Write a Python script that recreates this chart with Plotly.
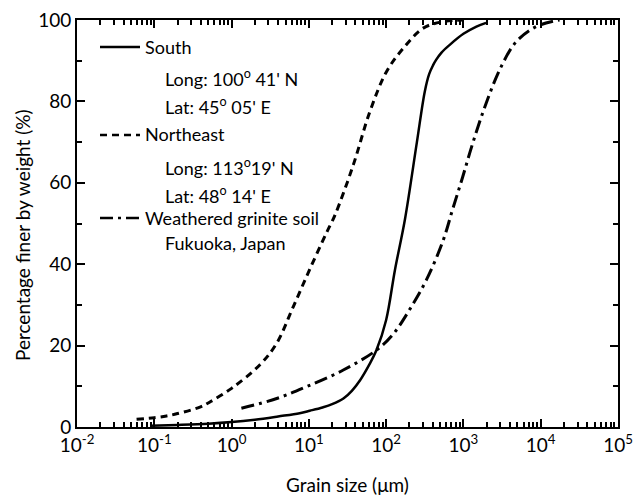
import plotly.graph_objects as go

# ---- data (grain size in micrometres, percent finer by weight) ----
south_x = [0.088, 0.2, 0.5, 1.0, 2.0, 4.0, 7.6, 10.3, 15, 20, 28, 36, 46, 60, 75, 100, 130, 175, 250, 316, 360, 405, 443, 520, 665, 1000, 1472, 1963]
south_y = [0.3, 0.5, 0.8, 1.2, 1.8, 2.6, 3.4, 4.0, 4.8, 5.6, 7.0, 8.9, 11.5, 15.2, 18.9, 26.3, 38.6, 51.0, 70.0, 82.4, 86.7, 88.9, 90.2, 92.0, 93.9, 96.6, 98.4, 99.3]

northeast_x = [0.059, 0.1, 0.144, 0.2, 0.39, 0.53, 1.0, 2.33, 3.84, 6.3, 10.3, 17, 21.7, 37.6, 61.6, 101, 166, 302, 546, 1000]
northeast_y = [1.9, 2.3, 2.7, 3.3, 4.9, 6.2, 9.5, 15.3, 20.6, 29.6, 38.8, 47.8, 52.0, 64.4, 77.5, 87.3, 93.0, 98.0, 99.6, 100.0]

weathered_x = [1.34, 3.84, 9.3, 27.9, 75, 123, 202, 333, 541, 728, 980, 1318, 1963, 3070, 4840, 8770, 17500]
weathered_y = [4.6, 7.0, 9.9, 14.0, 18.9, 22.8, 28.9, 36.2, 45.6, 53.6, 61.5, 69.7, 79.5, 88.5, 94.7, 98.4, 100.0]

x_tickvals = [1e-2, 1e-1, 1e0, 1e1, 1e2, 1e3, 1e4, 1e5]
x_ticktext = ["10<sup>-2</sup>", "10<sup>-1</sup>", "10<sup>0</sup>", "10<sup>1</sup>",
              "10<sup>2</sup>", "10<sup>3</sup>", "10<sup>4</sup>", "10<sup>5</sup>"]
x_minor = [m * 10 ** e for e in range(-2, 5) for m in range(2, 10)]

FONT = "Lato"
BLACK = "#000000"

NE_DASH = "7px,5px"
WD_DASH = "13px,5px,3px,5px"

fig = go.Figure()
fig.add_trace(go.Scatter(x=south_x, y=south_y, mode="lines", name="South",
                         line=dict(color=BLACK, width=2.5, shape="spline", smoothing=1.0),
                         showlegend=False))
fig.add_trace(go.Scatter(x=northeast_x, y=northeast_y, mode="lines", name="Northeast",
                         line=dict(color=BLACK, width=3, dash=NE_DASH, shape="spline", smoothing=1.0),
                         showlegend=False))
fig.add_trace(go.Scatter(x=weathered_x, y=weathered_y, mode="lines", name="Weathered grinite soil",
                         line=dict(color=BLACK, width=3, dash=WD_DASH, shape="spline", smoothing=1.0),
                         showlegend=False))

axis_common = dict(
    showline=True, linecolor=BLACK, linewidth=2, mirror="allticks",
    ticks="inside", ticklen=8, tickwidth=2, tickcolor=BLACK,
    showgrid=False, zeroline=False,
    tickfont=dict(family=FONT, size=19, color=BLACK),
)

fig.update_xaxes(type="log", range=[-2, 5], tickvals=x_tickvals, ticktext=x_ticktext,
                 minor=dict(tickvals=x_minor, ticks="inside", ticklen=5, tickwidth=1.5,
                            tickcolor=BLACK, showgrid=False),
                 title=dict(text="Grain size (μm)", font=dict(family=FONT, size=19, color=BLACK),
                            standoff=24),
                 **axis_common)
fig.update_yaxes(range=[0, 100], dtick=20, tick0=0,
                 minor=dict(dtick=10, ticks="inside", ticklen=5, tickwidth=1.5,
                            tickcolor=BLACK, showgrid=False),
                 **axis_common)

# plot-area pixel helpers (plot area spans x 77..618, y 20..427)
W, H = 541.0, 407.0
def px(xp):
    return (xp - 77) / W
def py(yp):
    return (427 - yp) / H

# y-axis title (placed like the original, slightly below centre)
fig.add_annotation(text="Percentage finer by weight (%)", xref="paper", yref="paper",
                   x=px(22), y=py(235), xanchor="center", yanchor="middle",
                   textangle=-90, showarrow=False,
                   font=dict(family=FONT, size=19, color=BLACK))

# legend-like key drawn inside the plot
key = [
    (47, "solid"),
    (135, NE_DASH),
    (218, WD_DASH),
]
for yy, dash in key:
    fig.add_shape(type="line", xref="paper", yref="paper",
                  x0=px(100), x1=px(140), y0=py(yy), y1=py(yy),
                  line=dict(color=BLACK, width=2.5, dash=dash))

labels = [
    (143, 47, "South"),
    (163, 78, "Long: 100<sup>o</sup> 41' N"),
    (163, 106, "Lat: 45<sup>o</sup> 05' E"),
    (143, 134, "Northeast"),
    (163, 167, "Long: 113<sup>o</sup>19' N"),
    (163, 195, "Lat: 48<sup>o</sup> 14' E"),
    (143, 218, "Weathered grinite soil"),
    (163, 243, "Fukuoka, Japan"),
]
for xx, yy, txt in labels:
    fig.add_annotation(text=txt, xref="paper", yref="paper", x=px(xx), y=py(yy),
                       xanchor="left", yanchor="middle", showarrow=False,
                       font=dict(family=FONT, size=18, color=BLACK))

fig.update_layout(
    width=633, height=502,
    margin=dict(l=77, r=15, t=20, b=75, autoexpand=False),
    paper_bgcolor="white", plot_bgcolor="white",
    font=dict(family=FONT, color=BLACK),
)

fig.write_html("out.html")
